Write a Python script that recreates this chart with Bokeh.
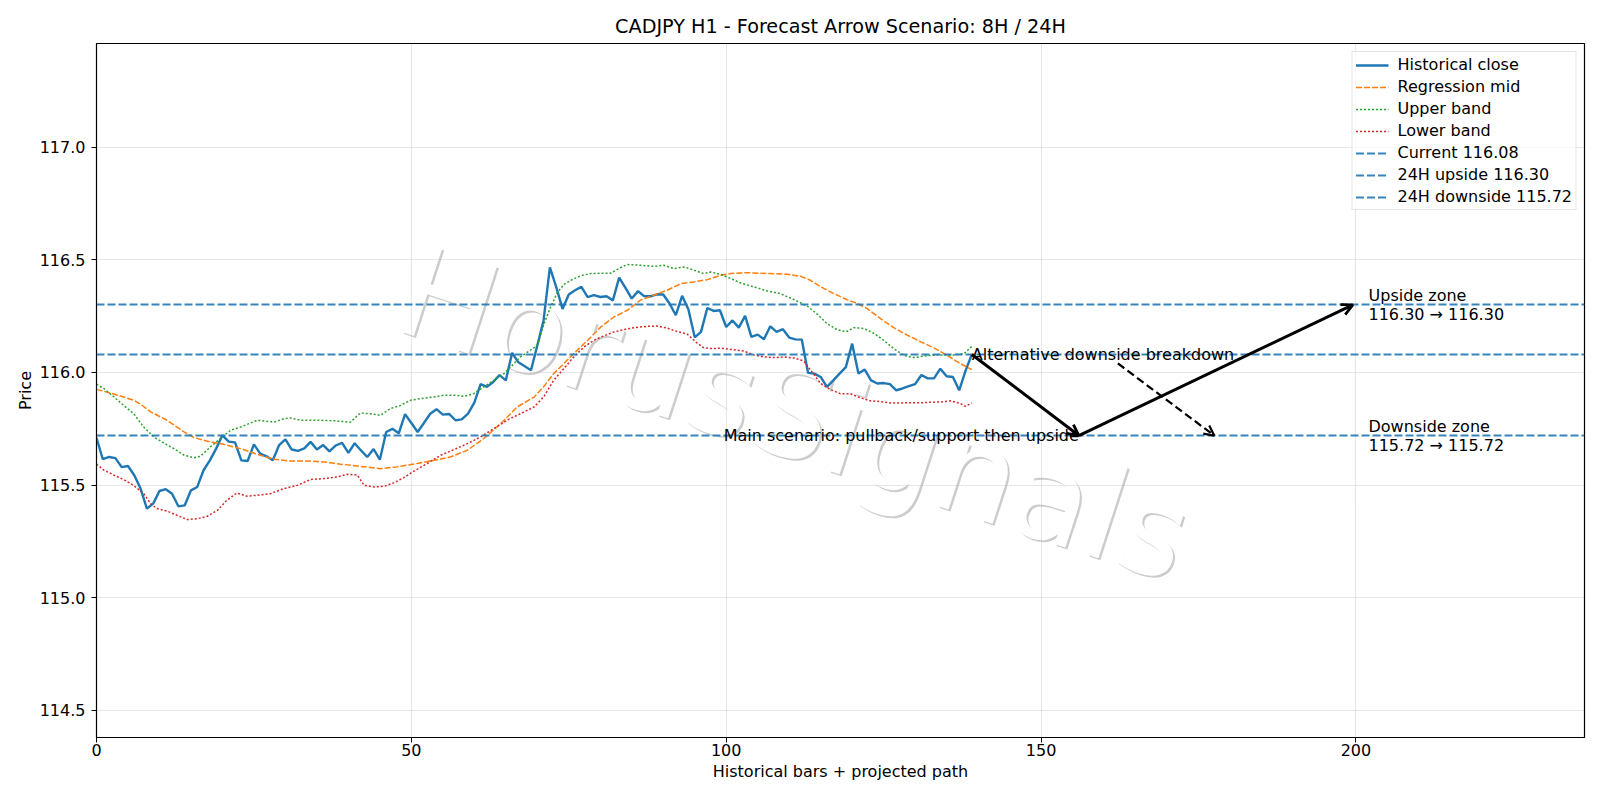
import math

from bokeh.plotting import figure
from bokeh.models import Range1d, FixedTicker, NumeralTickFormatter, Arrow, OpenHead
from bokeh.core.properties import value
from bokeh.embed import file_html
from bokeh.resources import INLINE

FONT = "DejaVu Sans"
TEXT_SIZE = "16px"
TITLE_SIZE = "19.2px"

# ---------------------------------------------------------------- data
bars = list(range(140))
close = [
    115.710, 115.615, 115.625, 115.620, 115.580, 115.585, 115.544, 115.485, 115.396, 115.418,
    115.474, 115.482, 115.462, 115.406, 115.410, 115.477, 115.492, 115.566, 115.610, 115.662,
    115.721, 115.693, 115.690, 115.610, 115.607, 115.681, 115.640, 115.628, 115.610, 115.678,
    115.703, 115.658, 115.652, 115.663, 115.692, 115.658, 115.678, 115.650, 115.676, 115.688,
    115.643, 115.686, 115.654, 115.625, 115.660, 115.613, 115.736, 115.750, 115.730, 115.815,
    115.776, 115.736, 115.776, 115.817, 115.837, 115.813, 115.816, 115.788, 115.792, 115.817,
    115.866, 115.948, 115.936, 115.958, 115.988, 115.965, 116.087, 116.045, 116.028, 116.010,
    116.120, 116.232, 116.466, 116.380, 116.282, 116.346, 116.365, 116.380, 116.334, 116.343,
    116.335, 116.338, 116.320, 116.421, 116.375, 116.328, 116.361, 116.338, 116.338, 116.347,
    116.346, 116.306, 116.254, 116.340, 116.279, 116.156, 116.180, 116.286, 116.273, 116.276,
    116.202, 116.231, 116.199, 116.251, 116.158, 116.168, 116.147, 116.205, 116.180, 116.192,
    116.155, 116.147, 116.146, 115.998, 115.995, 115.980, 115.936, 115.965, 115.995, 116.024,
    116.128, 115.995, 116.013, 115.965, 115.951, 115.953, 115.948, 115.921, 115.929, 115.939,
    115.948, 115.989, 115.974, 115.974, 116.017, 115.983, 115.980, 115.921, 116.007, 116.080,
]

mid_x = [0, 2.2, 4.3, 5.9, 7.0, 8.6, 11.2, 13.9, 15.5, 17.6, 20.2, 22.9, 25.5, 28.2, 30.8,
         33.5, 36.1, 38.8, 41.4, 45.1, 47.7, 50.9, 53.6, 56.2, 58.9, 61.5, 64.2, 66.8, 69.5,
         71.0, 72.6, 74.2, 75.8, 78.0, 80.1, 82.2, 84.3, 86.4, 88.5, 90.6, 92.8, 94.9, 97.0,
         99.1, 100.7, 103.3, 106.5, 109.7, 111.8, 113.4, 115.0, 117.1, 119.2, 120.8, 122.4,
         124.5, 126.6, 128.8, 130.9, 133.0, 135.1, 137.2, 139.0]
mid_y = [115.925, 115.909, 115.891, 115.877, 115.859, 115.825, 115.788, 115.736, 115.711,
         115.695, 115.681, 115.662, 115.637, 115.615, 115.607, 115.607, 115.603, 115.593,
         115.585, 115.573, 115.581, 115.596, 115.610, 115.625, 115.655, 115.707, 115.773,
         115.847, 115.891, 115.936, 115.995, 116.039, 116.084, 116.143, 116.202, 116.247,
         116.276, 116.321, 116.343, 116.365, 116.394, 116.402, 116.412, 116.431, 116.439,
         116.443, 116.439, 116.436, 116.427, 116.409, 116.380, 116.350, 116.323, 116.306,
         116.283, 116.239, 116.199, 116.165, 116.136, 116.109, 116.076, 116.039, 116.013]

upper_x = [0, 1.2, 2.8, 4.3, 5.9, 7.5, 9.1, 10.7, 12.3, 13.9, 15.5, 16.5, 18.1, 19.7, 21.3,
           22.9, 24.5, 25.5, 27.1, 28.2, 29.8, 30.8, 32.4, 35.0, 37.7, 40.3, 41.9, 43.5, 45.1,
           46.7, 48.3, 49.9, 51.5, 53.6, 55.2, 56.8, 58.4, 59.9, 61.5, 63.1, 64.7, 65.8, 67.3,
           68.9, 70.0, 71.0, 72.1, 73.2, 74.2, 75.3, 76.9, 78.4, 80.0, 81.6, 83.2, 84.3, 86.4,
           88.5, 90.1, 91.7, 93.3, 94.9, 96.4, 97.5, 99.1, 100.7, 102.3, 104.4, 106.5, 108.6,
           110.8, 112.9, 114.5, 116.0, 117.6, 119.0, 120.3, 121.9, 123.5, 125.0, 126.6, 128.2,
           129.8, 132.0, 134.1, 136.2, 137.8, 139.0]
upper_y = [115.948, 115.928, 115.891, 115.854, 115.817, 115.758, 115.714, 115.687, 115.662,
           115.633, 115.622, 115.628, 115.670, 115.707, 115.744, 115.758, 115.776, 115.788,
           115.783, 115.780, 115.795, 115.798, 115.788, 115.788, 115.786, 115.779, 115.820,
           115.817, 115.810, 115.840, 115.854, 115.877, 115.884, 115.891, 115.899, 115.899,
           115.894, 115.906, 115.936, 115.965, 115.995, 116.025, 116.069, 116.099, 116.120,
           116.210, 116.290, 116.355, 116.390, 116.409, 116.429, 116.439, 116.440, 116.440,
           116.465, 116.479, 116.476, 116.471, 116.476, 116.461, 116.468, 116.454, 116.439,
           116.446, 116.436, 116.417, 116.397, 116.380, 116.362, 116.350, 116.323, 116.294,
           116.258, 116.217, 116.190, 116.180, 116.199, 116.195, 116.173, 116.143, 116.106,
           116.076, 116.066, 116.075, 116.078, 116.078, 116.084, 116.116]

lower_x = [0, 1.2, 2.8, 4.3, 5.9, 7.5, 8.6, 9.6, 11.2, 12.8, 14.4, 16.0, 17.6, 19.2, 20.7,
           22.3, 23.9, 25.5, 27.6, 29.8, 31.9, 34.0, 36.1, 38.2, 39.8, 41.4, 42.5, 44.1, 45.7,
           47.2, 48.8, 50.4, 52.5, 54.6, 56.8, 58.9, 61.0, 63.1, 65.2, 67.3, 69.5, 71.0, 72.6,
           74.2, 75.8, 77.4, 79.0, 80.6, 82.2, 83.7, 85.4, 87.5, 89.0, 90.6, 92.2, 93.8, 95.4,
           96.4, 97.7, 99.3, 101.2, 102.8, 104.4, 106.0, 107.6, 109.2, 110.8, 112.3, 113.4,
           115.0, 116.6, 118.1, 119.7, 121.3, 122.9, 124.5, 126.1, 127.7, 129.3, 130.9, 132.5,
           134.1, 135.7, 137.2, 138.0, 139.0]
lower_y = [115.593, 115.566, 115.544, 115.525, 115.499, 115.462, 115.418, 115.396, 115.385,
           115.366, 115.347, 115.351, 115.362, 115.388, 115.433, 115.465, 115.451, 115.455,
           115.462, 115.485, 115.499, 115.525, 115.529, 115.536, 115.548, 115.545, 115.499,
           115.492, 115.495, 115.510, 115.533, 115.562, 115.596, 115.632, 115.658, 115.684,
           115.714, 115.751, 115.788, 115.817, 115.847, 115.891, 115.965, 116.017, 116.069,
           116.113, 116.143, 116.163, 116.180, 116.190, 116.199, 116.205, 116.206, 116.197,
           116.182, 116.170, 116.130, 116.110, 116.106, 116.108, 116.101, 116.095, 116.078,
           116.069, 116.066, 116.069, 116.064, 116.051, 116.010, 115.951, 115.924, 115.906,
           115.906, 115.888, 115.874, 115.871, 115.865, 115.865, 115.866, 115.865, 115.868,
           115.869, 115.874, 115.862, 115.850, 115.865]

current_price = 116.08
upside_target = 116.30
downside_target = 115.72

# projected scenario: pullback to support, then push to the upside zone
path_x = [139, 156, 199.5]
path_y = [current_price, downside_target, upside_target]
# alternative: breakdown toward the downside zone
alt_x = [162.2, 177.5]
alt_y = [116.04, downside_target]
zone_label_x = 202

x_ticks = [0, 50, 100, 150, 200]
y_ticks = [114.5, 115.0, 115.5, 116.0, 116.5, 117.0]
x_limits = (0, 236.3)
y_limits = (114.38, 117.46)

BLUE, ORANGE, GREEN, RED = "#1f77b4", "#ff7f0e", "#2ca02c", "#d62728"

# ---------------------------------------------------------------- figure
p = figure(
    width=1600, height=800, output_backend="svg", toolbar_location=None,
    x_range=Range1d(*x_limits), y_range=Range1d(*y_limits),
    title="CADJPY H1 - Forecast Arrow Scenario: 8H / 24H",
    min_border_left=96, min_border_right=16, min_border_top=43, min_border_bottom=63,
)
p.background_fill_color = "white"
p.border_fill_color = "white"
p.outline_line_color = "black"
p.outline_line_width = 1.2
p.outline_line_alpha = 1.0

p.title.text_font = FONT
p.title.text_font_size = TITLE_SIZE
p.title.text_font_style = "normal"
p.title.text_color = "black"
p.title.align = "center"
p.title.standoff = 11

for ax in (p.xaxis[0], p.yaxis[0]):
    ax.major_label_text_font = FONT
    ax.major_label_text_font_size = TEXT_SIZE
    ax.major_label_text_color = "black"
    ax.axis_label_text_font = FONT
    ax.axis_label_text_font_size = TEXT_SIZE
    ax.axis_label_text_font_style = "normal"
    ax.axis_label_text_color = "black"
    ax.axis_line_color = "black"
    ax.major_tick_line_color = "black"
    ax.major_tick_out = 5
    ax.major_tick_in = 0
    ax.minor_tick_out = 0
    ax.minor_tick_in = 0

p.xaxis.major_label_standoff = 1
p.yaxis.major_label_standoff = 6
p.xaxis.ticker = FixedTicker(ticks=x_ticks)
p.yaxis.ticker = FixedTicker(ticks=y_ticks)
p.xgrid.ticker = FixedTicker(ticks=x_ticks)
p.ygrid.ticker = FixedTicker(ticks=y_ticks)
p.yaxis.formatter = NumeralTickFormatter(format="0.0")
p.xaxis.axis_label = "Historical bars + projected path"
p.yaxis.axis_label = "Price"
p.xaxis.axis_label_standoff = 3
p.yaxis.axis_label_standoff = 2

p.grid.grid_line_color = "#b0b0b0"
p.grid.grid_line_alpha = 0.3
p.grid.grid_line_width = 1.1

# ---------------------------------------------------------------- watermark
wm_angle = math.radians(-18)
wm_x, wm_y = 48.8, 116.38
p.text(x=[wm_x], y=[wm_y], text=["HorusSignals"], x_offset=2, y_offset=2,
       text_color="#cccccc", text_font=value(FONT), text_font_size="126px",
       angle=wm_angle, text_align="left", text_baseline="alphabetic", level="image")
p.text(x=[wm_x], y=[wm_y], text=["HorusSignals"],
       text_color="white", text_font=value(FONT), text_font_size="126px",
       angle=wm_angle, text_align="left", text_baseline="alphabetic", level="image")

# ---------------------------------------------------------------- series
p.line(bars, close, line_color=BLUE, line_width=2.4, legend_label="Historical close")
p.line(mid_x, mid_y, line_color=ORANGE, line_width=1.5, line_dash="6 2",
       legend_label="Regression mid")
p.line(upper_x, upper_y, line_color=GREEN, line_width=1.5, line_dash="2 2",
       legend_label="Upper band")
p.line(lower_x, lower_y, line_color=RED, line_width=1.5, line_dash="2 2",
       legend_label="Lower band")

p.hspan(y=[current_price], line_color=BLUE, line_width=2.0, line_dash="8 3",
        line_alpha=0.9, legend_label=f"Current {current_price:.2f}")
p.hspan(y=[upside_target], line_color=BLUE, line_width=2.0, line_dash="8 3",
        line_alpha=0.9, legend_label=f"24H upside {upside_target:.2f}")
p.hspan(y=[downside_target], line_color=BLUE, line_width=2.0, line_dash="8 3",
        line_alpha=0.9, legend_label=f"24H downside {downside_target:.2f}")

# ---------------------------------------------------------------- arrows
for i in range(len(path_x) - 1):
    p.add_layout(Arrow(
        end=OpenHead(size=11, line_width=2.8, line_color="black"),
        x_start=path_x[i], y_start=path_y[i], x_end=path_x[i + 1], y_end=path_y[i + 1],
        line_color="black", line_width=3.0))
p.add_layout(Arrow(
    end=OpenHead(size=10, line_width=2.2, line_color="black"),
    x_start=alt_x[0], y_start=alt_y[0], x_end=alt_x[1], y_end=alt_y[1],
    line_color="black", line_width=2.2, line_dash="8 4"))

# ---------------------------------------------------------------- annotations
txt = dict(text_font=value(FONT), text_font_size=TEXT_SIZE, text_color="black")
p.text(x=[path_x[0]], y=[path_y[0]], text=["Alternative downside breakdown"],
       text_align="left", text_baseline="alphabetic", **txt)
p.text(x=[path_x[1]], y=[path_y[1]], text=["Main scenario: pullback/support then upside"],
       text_align="right", text_baseline="alphabetic", **txt)
p.text(x=[zone_label_x, zone_label_x], y=[upside_target, downside_target],
       text=[f"Upside zone\n{upside_target:.2f} \u2192 {upside_target:.2f}",
             f"Downside zone\n{downside_target:.2f} \u2192 {downside_target:.2f}"],
       text_align="left", text_baseline="middle", text_line_height=1.0, **txt)

# ---------------------------------------------------------------- legend
lg = p.legend[0]
lg.location = "top_right"
lg.margin = 8
lg.padding = 3
lg.spacing = 3
lg.glyph_width = 33
lg.glyph_height = 18
lg.label_height = 18
lg.label_standoff = 9
lg.label_text_font = FONT
lg.label_text_font_size = TEXT_SIZE
lg.label_text_color = "black"
lg.border_line_color = "#cccccc"
lg.border_line_width = 1
lg.background_fill_color = "white"
lg.background_fill_alpha = 0.8

open("out.html", "w").write(file_html(p, INLINE))
